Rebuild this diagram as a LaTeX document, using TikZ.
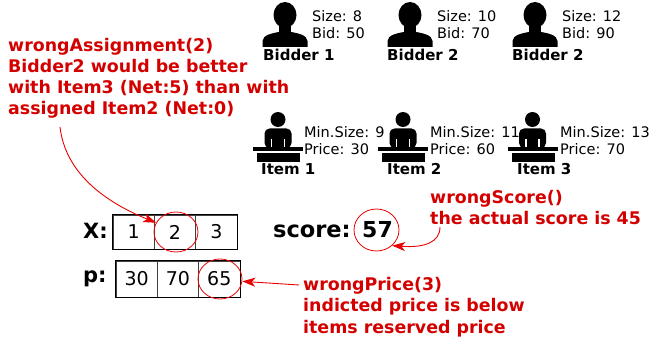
\documentclass[tikz,border=0pt]{standalone}
\usepackage{fontspec}
\setmainfont{DejaVu Sans}
\usetikzlibrary{arrows.meta,shapes.geometric}
\definecolor{errred}{RGB}{212,0,0}
\definecolor{markred}{RGB}{235,0,0}
\newcommand{\bidderIcon}[1]{%
  \begin{scope}[shift={(#1,0)}]
    \fill (0,15) ellipse [x radius=11.5pt, y radius=13pt];
    \fill (-6,22) rectangle (6,34);
    \fill (-22.5,47) -- (-22.5,41) .. controls (-22.5,35) and (-12,33) .. (-6,32)
      -- (6,32) .. controls (12,33) and (22.5,35) .. (22.5,41) -- (22.5,47) -- cycle;
  \end{scope}}
\newcommand{\itemIcon}[1]{%
  \begin{scope}[shift={(#1,0)}]
    \fill (0,119.5) circle (7.5pt);
    \fill[rounded corners=5pt] (-13.5,148) -- (-13.5,128.5) -- (13.5,128.5) -- (13.5,148) -- cycle;
    \draw[white,line width=1.2pt] (-6.5,139) -- (-6.5,147) (6.5,139) -- (6.5,147);
    \fill (-25,147) rectangle (25,151);
    \fill (-21,153) rectangle (22,162);
  \end{scope}}

\begin{document}
\begin{tikzpicture}[x=1pt,y=-1pt,
    info/.style={anchor=base west,inner sep=0pt,align=left,font=\fontsize{14.5}{17.5}\selectfont},
    who/.style={anchor=base west,inner sep=0pt,font=\bfseries\fontsize{15}{18}\selectfont},
    note/.style={anchor=base west,inner sep=0pt,align=left,text=errred,font=\bfseries\fontsize{17.4}{21.3}\selectfont},
    cell/.style={draw=black!75,line width=0.5pt,inner sep=0pt,minimum width=41.33pt,font=\fontsize{19}{22}\selectfont},
    big/.style={anchor=base west,inner sep=0pt,font=\bfseries\fontsize{21}{24}\selectfont},
    ring/.style={draw=markred,line width=0.8pt,ellipse,inner sep=0pt,minimum width=44pt,minimum height=40pt},
    note arrow/.style={draw=markred,line width=0.9pt,-{Stealth[length=13pt,width=9pt,inset=3.5pt]}}]
    \useasboundingbox[fill=white] (0,0) rectangle (649,345);
    % bidders
    \bidderIcon{285}
    \bidderIcon{410}
    \bidderIcon{535}
    \node (infoA) at (312,39) [info] {Size: 8\\Bid: 50};
    \node (infoB) at (437,39) [info] {Size: 10\\Bid: 70};
    \node (infoC) at (562,39) [info] {Size: 12\\Bid: 90};
    \node (bidderA) at (263,61) [who] {Bidder 1};
    \node (bidderB) at (387,61) [who] {Bidder 2};
    \node (bidderC) at (512,61) [who] {Bidder 2};
    % items
    \itemIcon{278}
    \itemIcon{403}
    \itemIcon{532.5}
    \node (itemInfoA) at (304,155) [info] {Min.Size: 9\\Price: 30};
    \node (itemInfoB) at (430,155) [info] {Min.Size: 11\\Price: 60};
    \node (itemInfoC) at (560,155) [info] {Min.Size: 13\\Price: 70};
    \node (itemA) at (261,175) [who] {Item 1};
    \node (itemB) at (387,175) [who] {Item 2};
    \node (itemC) at (517,175) [who] {Item 3};
    % assignment and prices
    \node (labX) at (83,238) [big] {X:};
    \node (xa) at (133.67,232) [cell,minimum height=34pt] {1};
    \node (xb) at (175,232) [cell,minimum height=34pt] {2};
    \node (xc) at (216.33,232) [cell,minimum height=34pt] {3};
    \draw[line width=1pt] (xa.north west) rectangle (xc.south east);
    \node (labP) at (83,282) [big] {p:};
    \node (pa) at (136.67,279) [cell,minimum height=36pt] {30};
    \node (pb) at (178,279) [cell,minimum height=36pt] {70};
    \node (pc) at (219.33,279) [cell,minimum height=36pt] {65};
    \draw[line width=1pt] (pa.north west) rectangle (pc.south east);
    \node (labScore) at (273,237) [big,font=\bfseries\fontsize{22.5}{26}\selectfont] {score:};
    \node (valScore) at (362,237) [big,font=\bfseries\fontsize{22}{26}\selectfont] {57};
    \node (ringTwo) at (176,232) [ring] {};
    \node (ringPrice) at (220,279) [ring] {};
    \node (ringScore) at (376.5,230) [ring,minimum width=45pt,minimum height=42pt] {};
    % error notes
    \node (noteAssign) at (8,115) [note] {wrongAssignment(2)\\Bidder2 would be better\\with Item3 (Net:5) than with\\assigned Item2 (Net:0)};
    \node (noteScore) at (430,225) [note] {wrongScore()\\the actual score is 45};
    \node (notePrice) at (303,333) [note] {wrongPrice(3)\\indicted price is below\\items reserved price};
    \coordinate (tailAssign) at (60,127);
    \coordinate (tailScore) at (440,227);
    \coordinate (tailPrice) at (299,285);
    \draw[note arrow] (tailAssign) .. controls (65,170) and (100,200) .. (ringTwo.155);
    \draw[note arrow] (tailScore) .. controls (440,242) and (425,248) .. (ringScore.-45);
    \draw[note arrow] (tailPrice) -- (ringPrice.-6);
\end{tikzpicture}
\end{document}
